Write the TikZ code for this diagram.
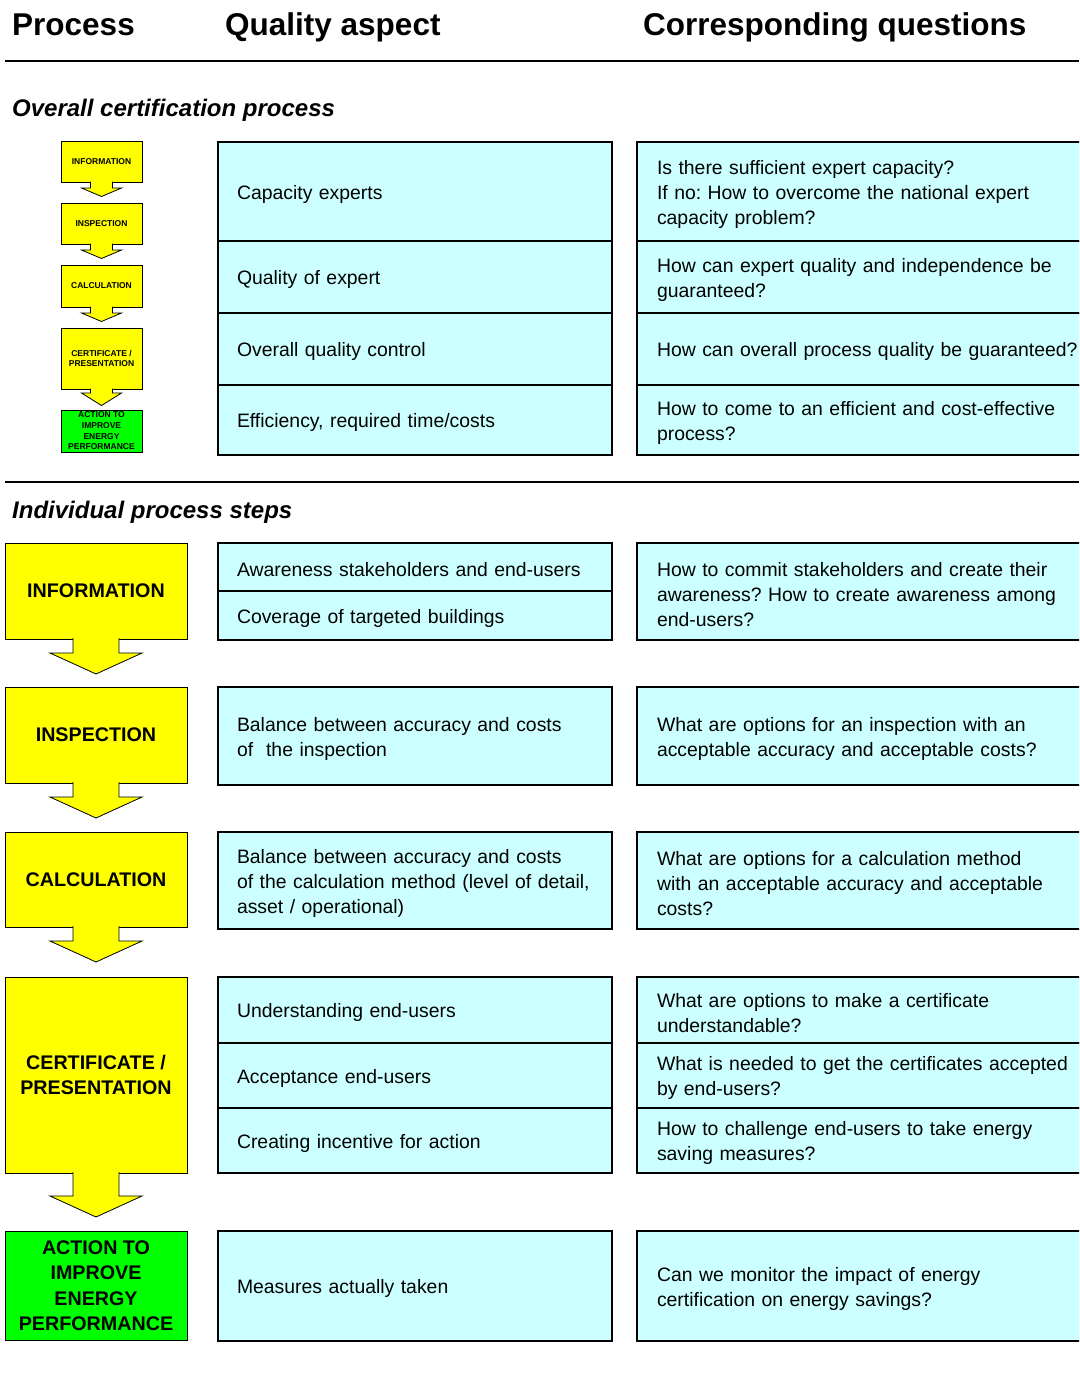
\documentclass[tikz,border=0pt]{standalone}
\usepackage{fontspec}
\setmainfont{Liberation Sans}
\usepackage{tikz}
\usetikzlibrary{positioning}
\definecolor{qcyan}{HTML}{CCFFFF}
\definecolor{stepyellow}{HTML}{FFFF00}
\definecolor{stepgreen}{HTML}{00FF00}
\frenchspacing

\begin{document}
\begin{tikzpicture}[x=1pt,y=-1pt]
  \tikzset{AspectStyle/.style = {
    shape         = rectangle,
    draw          = black,
    fill          = qcyan,
    line width    = 1.6pt,
    text          = black,
    inner xsep    = 19pt,
    inner ysep    = 0pt,
    outer sep     = 0pt,
    minimum width = 394pt,
    text width    = 356pt,
    align         = left,
    anchor        = north west,
    font          = \fontsize{19.4}{25}\selectfont,
    execute at begin node = {\rule{0pt}{19.5pt}}
    }
  }
  \tikzset{QuestionStyle/.style = {
    AspectStyle,
    inner xsep    = 20pt,
    minimum width = 480pt,
    text width    = 440pt
    }
  }
  \tikzset{StepStyle/.style = {
    shape         = rectangle,
    draw          = black,
    fill          = stepyellow,
    line width    = 0.8pt,
    text          = black,
    inner sep     = 0pt,
    outer sep     = 0pt,
    minimum width = 182pt,
    align         = center,
    anchor        = north west,
    font          = \fontsize{19.7}{25.5}\selectfont\bfseries
    }
  }
  \tikzset{SmallStepStyle/.style = {
    StepStyle,
    line width    = 0.7pt,
    minimum width = 81pt,
    font          = \fontsize{8.5}{10.7}\selectfont\bfseries
    }
  }
  \tikzset{ArrowStyle/.style = {
    draw          = black,
    fill          = stepyellow,
    line width    = 0.8pt,
    line join     = miter
    }
  }
  \tikzset{HeadStyle/.style = {
    anchor        = base west,
    inner sep     = 0pt,
    font          = \fontsize{31.5}{36}\selectfont\bfseries
    }
  }
  \tikzset{SectionStyle/.style = {
    anchor        = base west,
    inner sep     = 0pt,
    font          = \fontsize{24}{28}\selectfont\bfseries\itshape
    }
  }
  \tikzset{RuleStyle/.style = {
    draw          = black,
    line width    = 2.6pt
    }
  }

  \useasboundingbox (0,0) rectangle (1079,1376);
  \clip (0,0) rectangle (1079,1376);

  % column heads
  \node[HeadStyle](hProcess) at (12, 35) {Process};
  \node[HeadStyle](hAspect) at (225, 35) {Quality aspect};
  \node[HeadStyle](hQuestion) at (643, 35) {Corresponding questions};
  \draw[RuleStyle] (5, 61) -- (1079, 61);

  % overall process
  \node[SectionStyle](secOverall) at (12, 116) {Overall certification process};

  \node[SmallStepStyle, minimum height=41pt](S1) at (61, 141) {INFORMATION};
  \node[SmallStepStyle, minimum height=41pt](S2) at (61, 203) {INSPECTION};
  \node[SmallStepStyle, minimum height=42pt](S3) at (61, 265) {CALCULATION};
  \node[SmallStepStyle, minimum height=61pt](S4) at (61, 328) {CERTIFICATE /\\PRESENTATION};
  \node[SmallStepStyle, minimum height=42pt, fill=stepgreen](S5) at (61, 410) {ACTION TO\\IMPROVE\\ENERGY\\PERFORMANCE};
  \draw[ArrowStyle] ([xshift=-11pt,yshift=0.5pt]S1.south) -- ++(0,6.5) -- ++(-9,0) -- ++(20,8.5) -- ++(20,-8.5) -- ++(-9,0) -- ++(0,-6.5);
  \draw[ArrowStyle] ([xshift=-11pt,yshift=0.5pt]S2.south) -- ++(0,6.5) -- ++(-9,0) -- ++(20,8.5) -- ++(20,-8.5) -- ++(-9,0) -- ++(0,-6.5);
  \draw[ArrowStyle] ([xshift=-11pt,yshift=0.5pt]S3.south) -- ++(0,6.5) -- ++(-9,0) -- ++(20,8.5) -- ++(20,-8.5) -- ++(-9,0) -- ++(0,-6.5);
  \draw[ArrowStyle] ([xshift=-11pt,yshift=0.5pt]S4.south) -- ++(0,4.5) -- ++(-9,0) -- ++(20,12.5) -- ++(20,-12.5) -- ++(-9,0) -- ++(0,-4.5);

  \node[AspectStyle, minimum height=99pt](QA1) at (218, 142) {Capacity experts};
  \node[AspectStyle, minimum height=72pt, below=0pt of QA1](QA2) {Quality of expert};
  \node[AspectStyle, minimum height=72pt, below=0pt of QA2](QA3) {Overall quality control};
  \node[AspectStyle, minimum height=70pt, below=0pt of QA3](QA4) {Efficiency, required time/costs};

  \node[QuestionStyle, minimum height=99pt](QQ1) at (637, 142) {Is there sufficient expert capacity?\\If no: How to overcome the national expert\\capacity problem?};
  \node[QuestionStyle, minimum height=72pt, below=0pt of QQ1](QQ2) {How can expert quality and independence be\\guaranteed?};
  \node[QuestionStyle, minimum height=72pt, below=0pt of QQ2](QQ3) {How can overall process quality be guaranteed?};
  \node[QuestionStyle, minimum height=70pt, below=0pt of QQ3](QQ4) {How to come to an efficient and cost-effective\\process?};

  \draw[RuleStyle] (5, 482) -- (1079, 482);

  % individual steps
  \node[SectionStyle](secSteps) at (12, 518) {Individual process steps};

  \node[StepStyle, minimum height=96pt](P1) at (5, 543) {INFORMATION};
  \node[StepStyle, minimum height=96pt](P2) at (5, 687) {INSPECTION};
  \node[StepStyle, minimum height=95pt](P3) at (5, 832) {CALCULATION};
  \node[StepStyle, minimum height=196pt](P4) at (5, 977) {CERTIFICATE /\\PRESENTATION};
  \node[StepStyle, minimum height=109pt, fill=stepgreen](P5) at (5, 1231) {ACTION TO\\IMPROVE\\ENERGY\\PERFORMANCE};
  \draw[ArrowStyle] ([xshift=-23pt,yshift=1pt]P1.south) -- ++(0,15) -- ++(-23,0) -- ++(46,21) -- ++(46,-21) -- ++(-23,0) -- ++(0,-15);
  \draw[ArrowStyle] ([xshift=-23pt,yshift=1pt]P2.south) -- ++(0,15) -- ++(-23,0) -- ++(46,21) -- ++(46,-21) -- ++(-23,0) -- ++(0,-15);
  \draw[ArrowStyle] ([xshift=-23pt,yshift=1pt]P3.south) -- ++(0,15) -- ++(-23,0) -- ++(46,21) -- ++(46,-21) -- ++(-23,0) -- ++(0,-15);
  \draw[ArrowStyle] ([xshift=-23pt,yshift=1pt]P4.south) -- ++(0,24) -- ++(-23,0) -- ++(46,21) -- ++(46,-21) -- ++(-23,0) -- ++(0,-24);

  \node[AspectStyle, minimum height=48pt](B1a) at (218, 543) {Awareness stakeholders and end-users};
  \node[AspectStyle, minimum height=49pt, below=0pt of B1a](B1b) {Coverage of targeted buildings};
  \node[AspectStyle, minimum height=98pt](B2) at (218, 687) {Balance between accuracy and costs\\of~ the inspection};
  \node[AspectStyle, minimum height=97pt](B3) at (218, 832) {Balance between accuracy and costs\\of the calculation method (level of detail,\\asset / operational)};
  \node[AspectStyle, minimum height=66pt](B4a) at (218, 977) {Understanding end-users};
  \node[AspectStyle, minimum height=65pt, below=0pt of B4a](B4b) {Acceptance end-users};
  \node[AspectStyle, minimum height=65pt, below=0pt of B4b](B4c) {Creating incentive for action};
  \node[AspectStyle, minimum height=110pt](B5) at (218, 1231) {Measures actually taken};

  \node[QuestionStyle, minimum height=97pt](C1) at (637, 543) {How to commit stakeholders and create their\\awareness? How to create awareness among\\end-users?};
  \node[QuestionStyle, minimum height=98pt](C2) at (637, 687) {What are options for an inspection with an\\acceptable accuracy and acceptable costs?};
  \node[QuestionStyle, minimum height=97pt](C3) at (637, 832) {What are options for a calculation method\\with an acceptable accuracy and acceptable\\costs?};
  \node[QuestionStyle, minimum height=66pt](C4a) at (637, 977) {What are options to make a certificate\\understandable?};
  \node[QuestionStyle, minimum height=65pt, below=0pt of C4a](C4b) {What is needed to get the certificates accepted\\by end-users?};
  \node[QuestionStyle, minimum height=65pt, below=0pt of C4b](C4c) {How to challenge end-users to take energy\\saving measures?};
  \node[QuestionStyle, minimum height=110pt](C5) at (637, 1231) {Can we monitor the impact of energy\\certification on energy savings?};

\end{tikzpicture}
\end{document}
